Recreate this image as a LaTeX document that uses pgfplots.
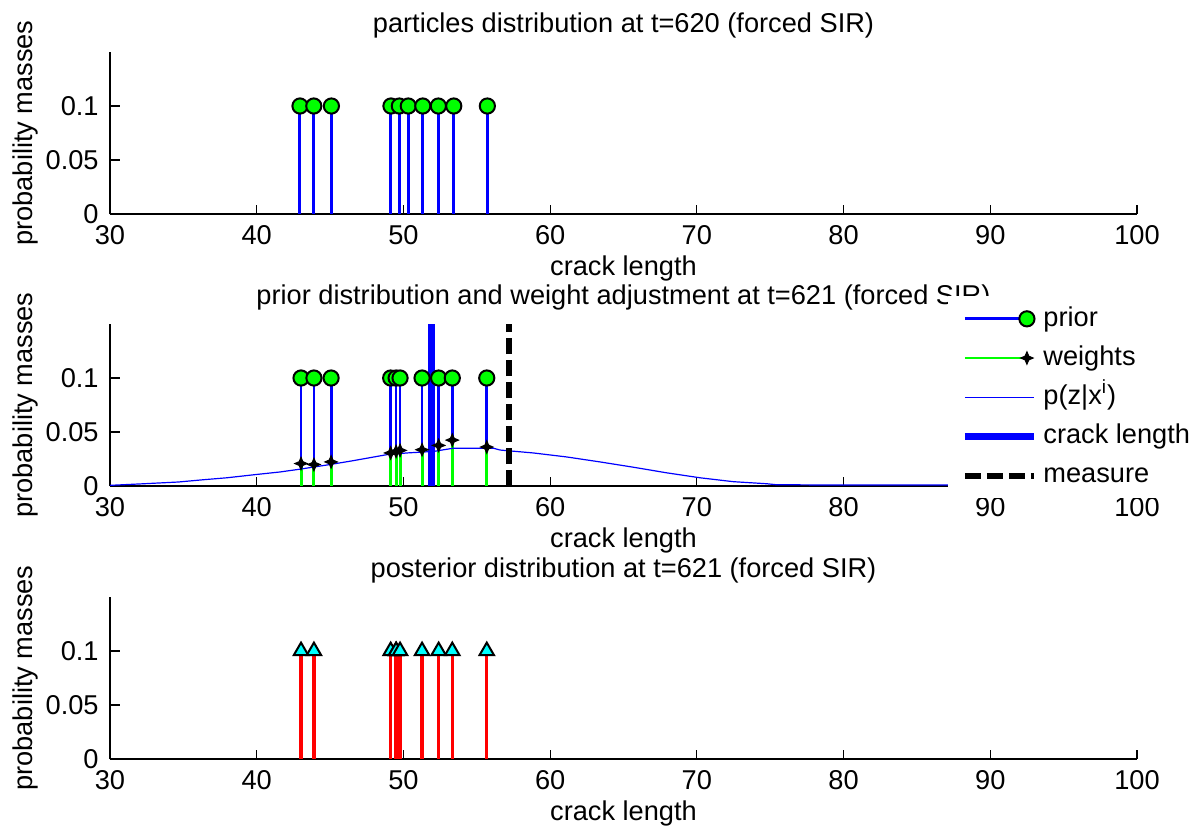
\documentclass[border=0pt]{standalone}
\usepackage{fontspec}
\setmainfont{Liberation Sans}
\usepackage{pgfplots}
\pgfplotsset{compat=1.18}
\newcommand\ff{\fontsize{13.6}{16}\selectfont}
\pgfdeclareplotmark{fstar}{%
  \pgfpathmoveto{\pgfqpoint{0pt}{\pgfplotmarksize}}%
  \pgfpathlineto{\pgfqpoint{0.3\pgfplotmarksize}{0.3\pgfplotmarksize}}%
  \pgfpathlineto{\pgfqpoint{\pgfplotmarksize}{0pt}}%
  \pgfpathlineto{\pgfqpoint{0.3\pgfplotmarksize}{-0.3\pgfplotmarksize}}%
  \pgfpathlineto{\pgfqpoint{0pt}{-\pgfplotmarksize}}%
  \pgfpathlineto{\pgfqpoint{-0.3\pgfplotmarksize}{-0.3\pgfplotmarksize}}%
  \pgfpathlineto{\pgfqpoint{-\pgfplotmarksize}{0pt}}%
  \pgfpathlineto{\pgfqpoint{-0.3\pgfplotmarksize}{0.3\pgfplotmarksize}}%
  \pgfpathclose\pgfusepathqfillstroke}
\definecolor{mblue}{rgb}{0,0,1}
\definecolor{mgreen}{rgb}{0,1,0}
\definecolor{mred}{rgb}{1,0,0}
\definecolor{mcyan}{rgb}{0,1,1}
\pgfplotsset{mlab/.style={
  scale only axis, width=513.5pt, height=81pt,
  xmin=30, xmax=100, ymin=0, ymax=0.15,
  xtick={30,40,50,60,70,80,90,100}, xticklabels={30,40,50,60,70,80,90,100},
  ytick={0,0.05,0.1}, yticklabels={0,0.05,0.1},
  axis lines*=left, tick align=inside, major tick length=4.75pt,
  axis line style={line width=0.6pt, black},
  every tick/.style={black, line width=0.6pt},
  tick label style={font=\ff},
  /pgf/number format/assume math mode=true,
  xticklabel style={anchor=center, yshift=-10.5pt},
  yticklabel style={anchor=east, inner sep=0pt, xshift=-5.5pt},
  every axis x label/.style={at={(axis description cs:0.5,0)}, anchor=center, yshift=-27pt, font=\ff},
  every axis y label/.style={at={(axis description cs:-0.0825,0.5)}, anchor=center, rotate=90, font=\ff},
  every axis title/.style={at={(axis description cs:0.5,1)}, anchor=center, yshift=13.5pt, font=\ff},
  xlabel={crack length}, ylabel={probability masses},
  clip=false,
}}
\begin{document}
\begin{tikzpicture}
\useasboundingbox (0,0) rectangle (596.5pt,-415pt);
% top panel
\begin{axis}[mlab, at={(55pt,-107pt)}, anchor=south west,
  title={particles distribution at t=620 (forced SIR)}]
\addplot[ycomb, mblue, line width=1.5pt, mark=*, mark size=3.8pt,
  mark options={fill=mgreen, draw=black, line width=1pt}] coordinates {
  (42.95,0.1) (43.89,0.1) (45.09,0.1) (49.15,0.1) (49.72,0.1)
  (50.33,0.1) (51.32,0.1) (52.38,0.1) (53.43,0.1) (55.72,0.1)};
\end{axis}
% middle panel
\begin{axis}[mlab, at={(55pt,-243pt)}, anchor=south west,
  title={prior distribution and weight adjustment at t=621 (forced SIR)},
  legend style={at={(axis description cs:0.816,1.1727)}, anchor=north west,
    draw=none, fill=white, font=\ff, inner xsep=6.5pt, inner ysep=4pt,
    row sep=5.2pt, column sep=2pt,
    nodes={inner sep=1pt, text height=9.8pt, text depth=2.6pt}},
  legend cell align=left]
\addplot[ycomb, mblue, line width=1.4pt, mark=*, mark size=3.8pt,
  mark options={fill=mgreen, draw=black, line width=1pt},
  legend image code/.code={\draw[mblue,line width=1.4pt] (0pt,0pt) -- (34.5pt,0pt);
    \draw[black,fill=mgreen,line width=1pt] (31pt,0pt) circle (3.8pt);}] coordinates {
  (43.02,0.1) (43.90,0.1) (45.07,0.1) (49.13,0.1) (49.50,0.1)
  (49.77,0.1) (51.27,0.1) (52.40,0.1) (53.33,0.1) (55.68,0.1)};
\addlegendentry{prior}
\addplot[ycomb, mgreen, line width=1.5pt, mark=fstar, mark size=3pt,
  mark options={fill=black, draw=black, line width=0.6pt},
  legend image code/.code={\draw[mgreen,line width=1.4pt] (0pt,0pt) -- (31pt,0pt);
    \draw[black,fill=black,line width=0.6pt] (31pt,3pt) -- (31.9pt,0.9pt) -- (34pt,0pt) -- (31.9pt,-0.9pt) -- (31pt,-3pt) -- (30.1pt,-0.9pt) -- (28pt,0pt) -- (30.1pt,0.9pt) -- cycle;}] coordinates {
  (43.02,0.0208) (43.90,0.0199) (45.07,0.0223) (49.13,0.0306) (49.50,0.0320)
  (49.77,0.0330) (51.27,0.0336) (52.40,0.0376) (53.33,0.0425) (55.68,0.0361)};
\addlegendentry{weights}
\addplot[mblue, line width=0.6pt, no marks,
  legend image code/.code={\draw[mblue,line width=0.7pt] (0pt,0pt) -- (34.5pt,0pt);}] coordinates {
  (30,0.0006) (32.16,0.0020) (34.66,0.0037) (36.36,0.0058) (37.95,0.0076)
  (40,0.0107) (41.59,0.0130) (42.95,0.0156) (45,0.0199) (46.59,0.0235)
  (48.86,0.0290) (50.22,0.0306) (52.04,0.0320) (53.4,0.0350) (56.13,0.0350)
  (56.59,0.0333) (58.86,0.0306) (61.13,0.0269) (63.4,0.0223) (65.67,0.0174)
  (67.95,0.0122) (70.22,0.0076) (72.49,0.0040) (74.76,0.0021) (75.4,0.0012)
  (79.3,0.0009) (87.1,0.0009) (100,0.0009)};
\addlegendentry{p(z|x\textsuperscript{i})}
\addplot[mblue, line width=3.5pt, no marks,
  legend image code/.code={\draw[mblue,line width=3.5pt] (0pt,0pt) -- (34.5pt,0pt);}] coordinates {
  (51.88,0) (51.88,0.15)};
\addlegendentry{crack length}
\addplot[black, line width=3pt, dash pattern=on 8pt off 3pt, no marks,
  legend image code/.code={\draw[black,line width=3pt,dash pattern=on 8pt off 3pt] (0pt,0pt) -- (34.5pt,0pt);}] coordinates {
  (57.22,0) (57.22,0.15)};
\addlegendentry{measure}
\end{axis}
% bottom panel
\begin{axis}[mlab, at={(55pt,-379.5pt)}, anchor=south west,
  title={posterior distribution at t=621 (forced SIR)}]
\addplot[ycomb, mred, line width=1.6pt, mark=triangle*, mark size=4.2pt,
  mark options={fill=mcyan, draw=black, line width=1pt}] coordinates {
  (43.02,0.1) (43.90,0.1) (49.13,0.1) (49.50,0.1) (49.50,0.1)
  (49.77,0.1) (51.27,0.1) (52.40,0.1) (53.33,0.1) (55.68,0.1)};
\end{axis}
\end{tikzpicture}
\end{document}
